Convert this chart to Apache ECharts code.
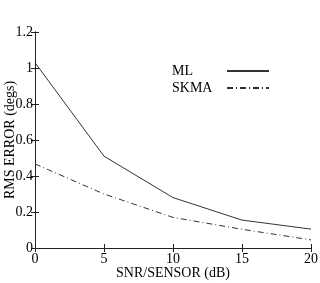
<!DOCTYPE html>
<html>
<head>
<meta charset="utf-8">
<script src="https://cdn.jsdelivr.net/npm/echarts@6/dist/echarts.min.js"></script>
<style>
  html, body {margin: 0; padding: 0; background: #fff;}
  #main {width: 320px; height: 283px;}
</style>
</head>
<body>
<div id="main"></div>
<script>
let snr = [0, 5, 10, 15, 20];
let mlValues = [1.03, 0.51, 0.28, 0.155, 0.105];
let skmaValues = [0.467, 0.30, 0.17, 0.104, 0.045];

let chart = echarts.init(document.getElementById('main'), null, {renderer: 'canvas'});
let font = 'Liberation Serif';
let axisColor = '#222';

let option = {
    animation: false,
    backgroundColor: '#fff',
    grid: {left: 35, top: 32, right: 9, bottom: 35, containLabel: false, outerBoundsMode: 'none'},
    legend: {
        orient: 'vertical',
        left: 167,
        top: 59,
        align: 'right',
        itemGap: 3,
        itemWidth: 42,
        itemHeight: 14,
        itemStyle: {opacity: 0},
        formatter: name => '{n|' + name + '}',
        textStyle: {
            fontFamily: font, fontSize: 14, color: '#000',
            rich: {n: {width: 50, align: 'left', fontFamily: font, fontSize: 14, color: '#000'}}
        },
        data: ['ML', 'SKMA']
    },
    xAxis: [{
        type: 'value',
        min: 0, max: 20, interval: 5,
        name: 'SNR/SENSOR (dB)',
        nameLocation: 'middle',
        nameGap: 18,
        nameMoveOverlap: false,
        nameTextStyle: {fontFamily: font, fontSize: 14, color: '#000'},
        axisLine: {lineStyle: {color: axisColor}},
        axisTick: {inside: true, length: 4, lineStyle: {color: axisColor}},
        axisLabel: {fontFamily: font, fontSize: 14, color: '#000', margin: 4},
        splitLine: {show: false}
    }, {
        type: 'value', position: 'top',
        min: 0, max: 20, interval: 5,
        axisLine: {lineStyle: {color: axisColor}},
        axisTick: {inside: true, length: 4, lineStyle: {color: axisColor}},
        axisLabel: {show: false},
        splitLine: {show: false}
    }],
    yAxis: [{
        type: 'value',
        min: 0, max: 1.2, interval: 0.2,
        name: 'RMS ERROR (degs)',
        nameLocation: 'middle',
        nameGap: 18,
        nameMoveOverlap: false,
        nameTextStyle: {fontFamily: font, fontSize: 14, color: '#000'},
        axisLine: {show: true, lineStyle: {color: axisColor}},
        axisTick: {show: true, inside: true, length: 4, lineStyle: {color: axisColor}},
        axisLabel: {fontFamily: font, fontSize: 14, color: '#000', margin: 2},
        splitLine: {show: false}
    }, {
        type: 'value', position: 'right',
        min: 0, max: 1.2, interval: 0.2,
        axisLine: {show: true, lineStyle: {color: axisColor}},
        axisTick: {show: true, inside: true, length: 4, lineStyle: {color: axisColor}},
        axisLabel: {show: false},
        splitLine: {show: false}
    }],
    series: [
        {
            name: 'ML',
            type: 'line',
            symbol: 'none',
            data: snr.map((x, i) => [x, mlValues[i]]),
            lineStyle: {color: '#333', width: 1}
        },
        {
            name: 'SKMA',
            type: 'line',
            symbol: 'none',
            data: snr.map((x, i) => [x, skmaValues[i]]),
            lineStyle: {color: '#333', width: 1, type: [6, 3, 1, 3]}
        }
    ]
};

chart.setOption(option);
</script>
</body>
</html>
